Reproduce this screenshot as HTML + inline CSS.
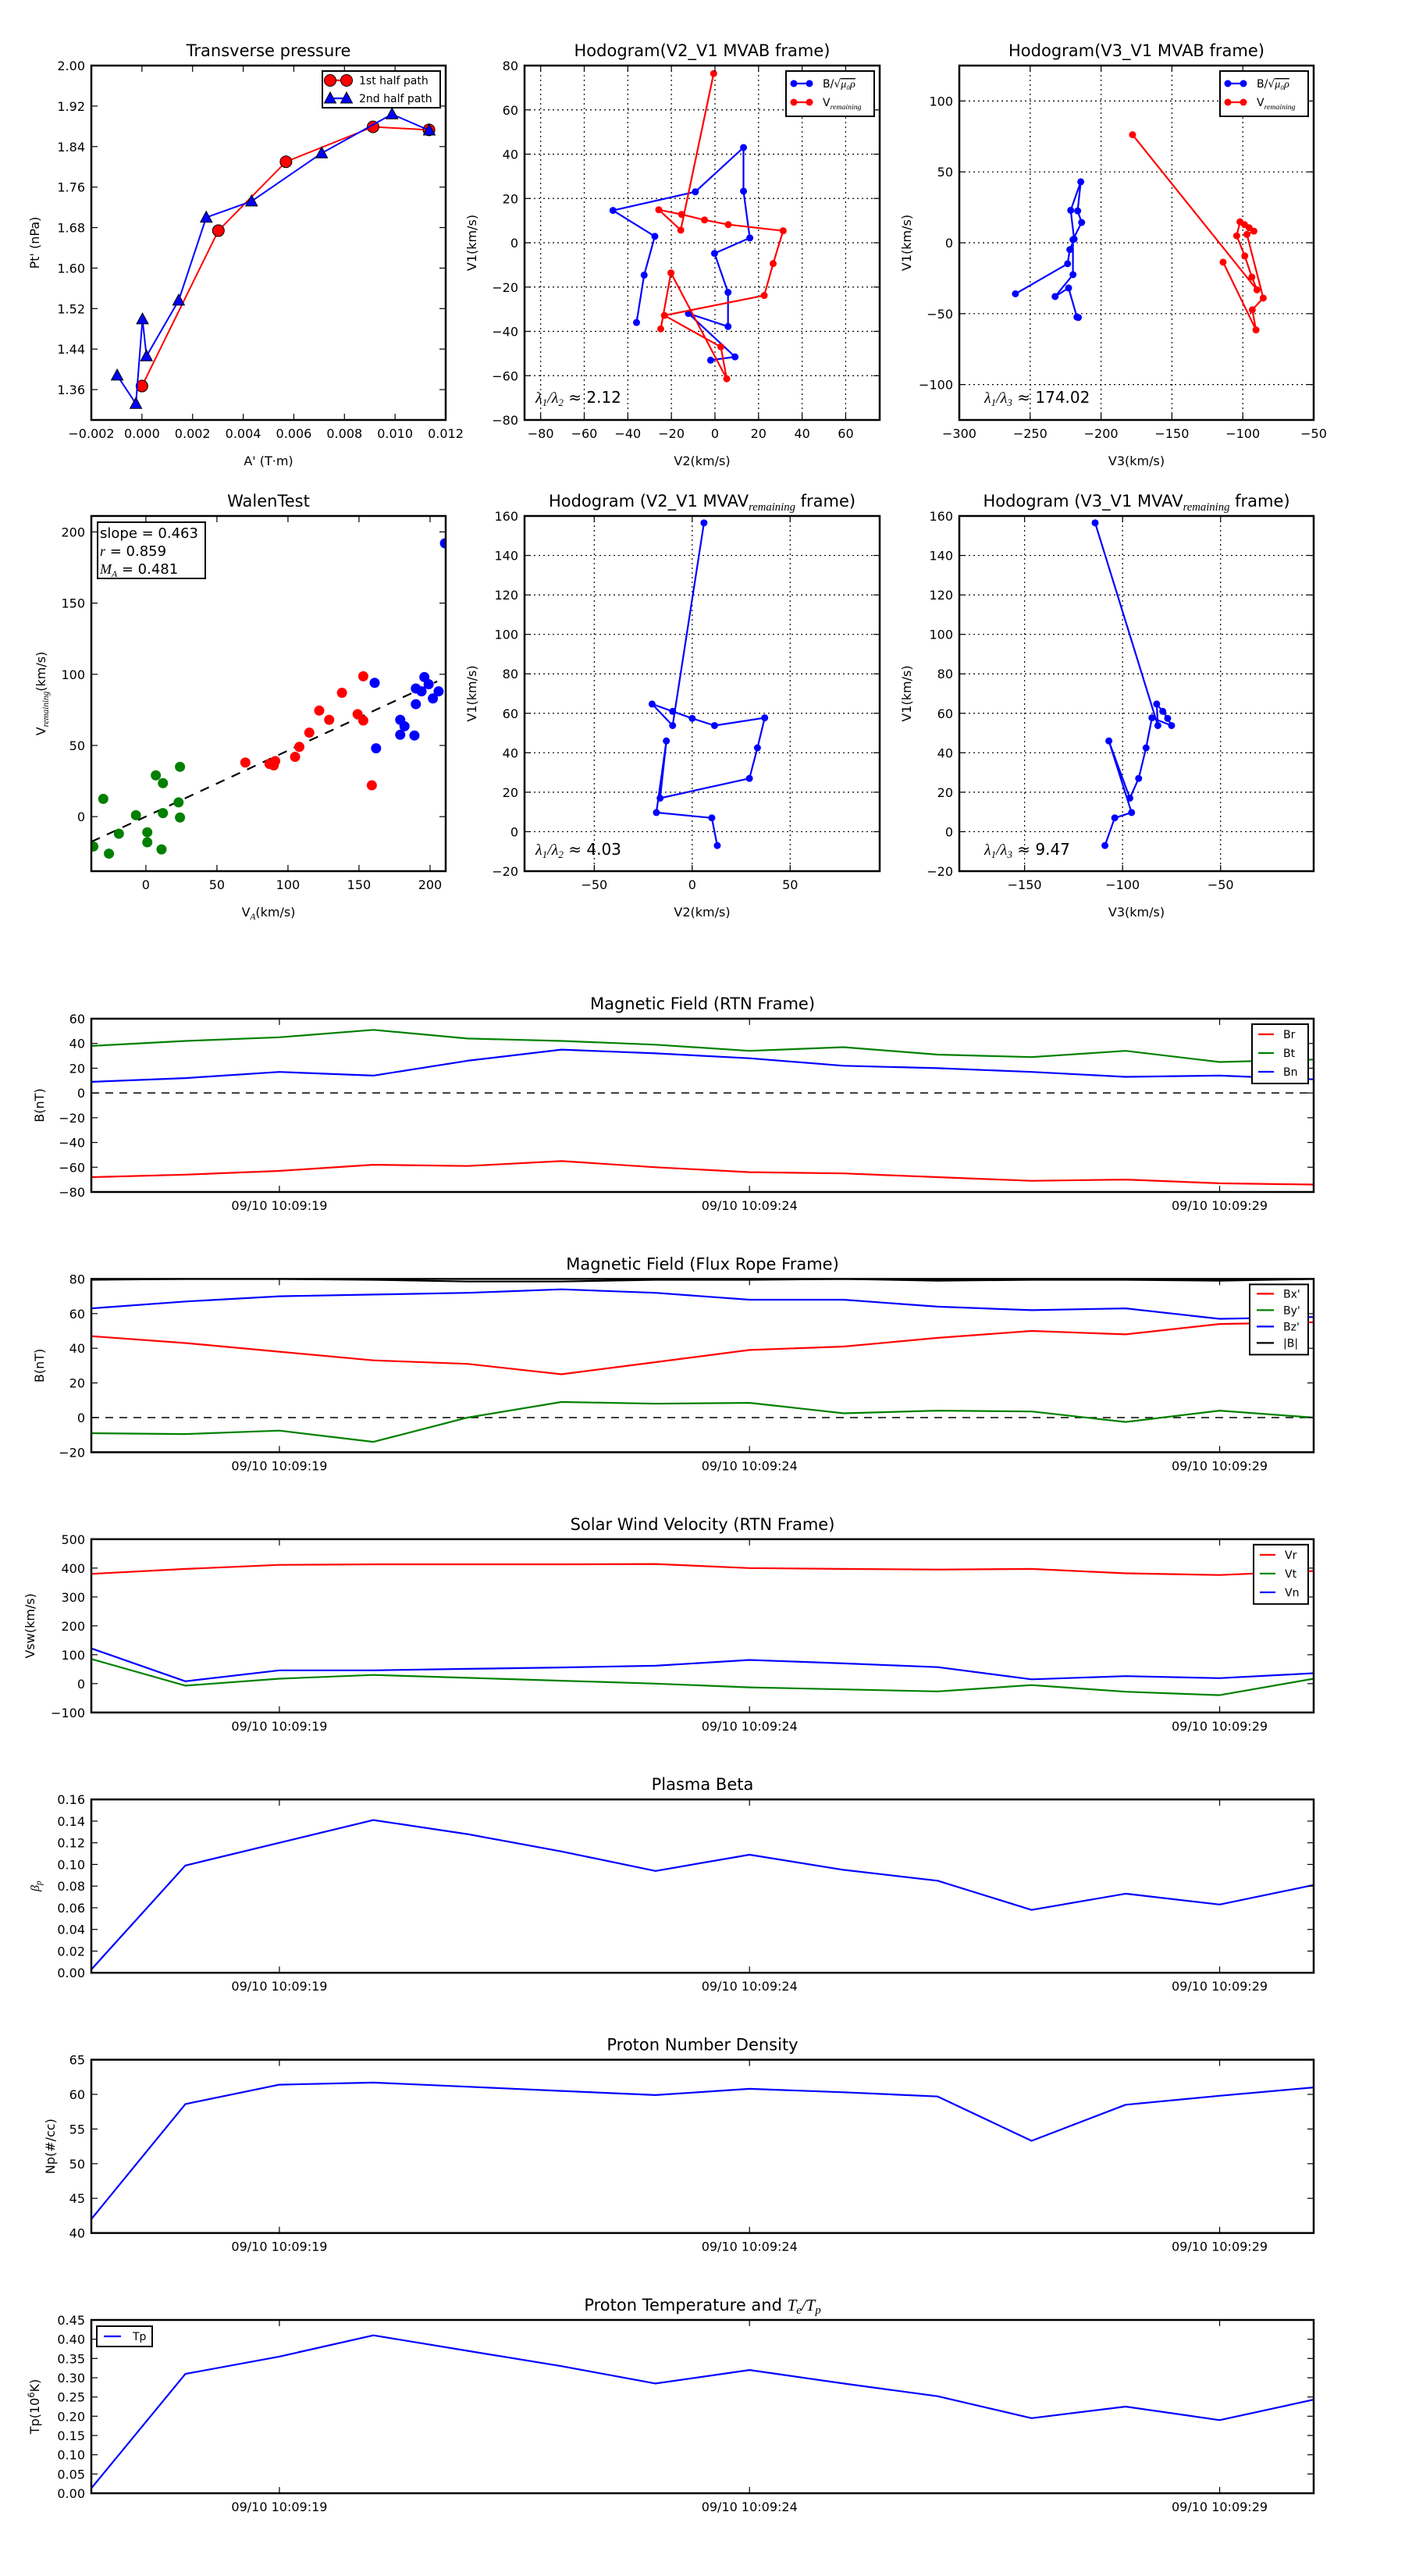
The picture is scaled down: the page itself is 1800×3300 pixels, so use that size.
<!DOCTYPE html>
<html><head><meta charset="utf-8"><title>Flux rope analysis</title>
<style>
html,body{margin:0;padding:0;background:#fff;}
svg{display:block;font-family:"DejaVu Sans","Liberation Sans",sans-serif;}
</style></head>
<body>
<svg id="fig" xmlns="http://www.w3.org/2000/svg" width="1800" height="3300" viewBox="0 0 1800 3300">
<rect width="1800" height="3300" fill="#fff"/>
</svg>
<script>
// ---------- data ----------
const tpRedX = [0.0000, 0.00302, 0.00569, 0.00913, 0.01134];
const tpRedY = [1.367, 1.674, 1.810, 1.879, 1.873];
const tpBlueX = [-0.00098, -0.00024, 0.00002, 0.00018, 0.00145, 0.00254, 0.00433, 0.0071, 0.00988, 0.01135];
const tpBlueY = [1.388, 1.332, 1.499, 1.426, 1.536, 1.700, 1.732, 1.827, 1.904, 1.872];

const h1BlueV2 = [-36, -32.5, -27.6, -46.8, -9, 13.1, 13.1, 16, -0.2, 6, 6, -12.2, 9.2, -2];
const h1BlueV1 = [-36, -14.6, 2.9, 14.6, 23, 43, 23.3, 2.2, -4.8, -22.4, -37.8, -31.9, -51.5, -53];
const h1RedV2 = [-0.6, -15.7, -25.8, -15.3, -4.8, 6.1, 31.3, 26.7, 22.6, -23.2, 2.7, 5.4, -20.2, -24.9];
const h1RedV1 = [76.4, 5.7, 14.9, 12.8, 10.3, 8.2, 5.4, -9.4, -23.8, -32.8, -47, -61.4, -13.6, -38.9];

const h2BlueV3 = [-260.4, -223.6, -222, -219, -221.4, -214.3, -216.5, -213.7, -219.8, -219.8, -232.4, -222.9, -217, -216];
const h2BlueV1 = [-36, -14.8, -4.8, 2.6, 22.9, 43, 22.5, 14.3, 2.2, -22.5, -37.9, -31.9, -52.4, -52.7];
const h2RedV3 = [-177.8, -90, -93.6, -98.6, -104.3, -102, -98.8, -95.5, -92.2, -97.1, -85.6, -93.3, -90.7, -113.9];
const h2RedV1 = [76.2, -33.2, -24.2, -9.3, 4.9, 14.8, 12.8, 10.6, 8.2, 5.9, -39, -47.3, -61.5, -13.7];

const walenGreenX = [-37, -30, -26, -19, -7, 1, 1, 7, 12, 12, 11, 23, 24, 24];
const walenGreenY = [-21, 12.5, -26, -12, 1, -11, -18, 29, 23.5, 2.5, -23, 10, 35, -0.6];
const walenRedX = [70, 87, 90, 91, 105, 108, 115, 122, 129, 138, 149, 153, 153, 159];
const walenRedY = [38, 37, 36, 39, 42, 49, 59, 74.5, 68, 87, 72, 67.5, 98.6, 22];
const walenBlueX = [161, 162, 179, 179, 182, 189, 190, 190, 194, 196, 199, 202, 206, 210.5];
const walenBlueY = [94, 48, 57.5, 68, 63.5, 57, 79, 90, 88, 98, 93, 83, 88, 192];
const walenSlope = 0.463;
const walenIntercept = 0.1;

const h3V2 = [6, -10, -20.5, -10, 0, 11.4, 37, 33.3, 29.2, -16.4, -13.2, -18.3, 10, 12.8];
const h3V1 = [156.5, 53.8, 64.7, 61, 57.4, 53.8, 57.7, 42.5, 27, 17, 46, 9.7, 7, -7];
const h4V3 = [-114, -82, -82.6, -79.5, -77, -75, -85, -88, -91.8, -96.3, -107, -95.4, -104, -109];
const h4V1 = [156.5, 53.8, 64.7, 61, 57.4, 53.8, 57.7, 42.5, 27, 17, 46, 9.7, 7, -7];

const timeLabels = ["09/10 10:09:19", "09/10 10:09:24", "09/10 10:09:29"];
const timeTickIdx = [2, 7, 12];

const Br = [-68, -66, -63, -58, -59, -55, -60, -64, -65, -68, -71, -70, -73, -74];
const Bt = [38, 42, 45, 51, 44, 42, 39, 34, 37, 31, 29, 34, 25, 27];
const Bn = [9, 12, 17, 14, 26, 35, 32, 28, 22, 20, 17, 13, 14, 11];

const Bxp = [47, 43, 38, 33, 31, 25, 32, 39, 41, 46, 50, 48, 54, 55];
const Byp = [-9, -9.5, -7.5, -14, 0, 9, 8, 8.5, 2.5, 4, 3.5, -2.5, 4, 0];
const Bzp = [63, 67, 70, 71, 72, 74, 72, 68, 68, 64, 62, 63, 57, 58];
const Bmag = [79.5, 80, 80, 79.5, 78.5, 78.5, 79.5, 79.5, 80, 79, 79.5, 79.5, 79, 80];

const Vr = [380, 397, 411, 413, 413, 413, 414, 400, 397, 395, 397, 382, 376, 390];
const Vt = [85, -7, 17, 30, 20, 10, 0, -13, -20, -27, -5, -28, -40, 17];
const Vn = [122, 8, 46, 46, 51, 56, 62, 82, 70, 57, 15, 26, 19, 36];

const beta = [0.003, 0.099, 0.120, 0.141, 0.128, 0.112, 0.094, 0.109, 0.095, 0.085, 0.058, 0.073, 0.063, 0.081];
const density = [42, 58.6, 61.4, 61.7, 61.1, 60.5, 59.9, 60.8, 60.3, 59.7, 53.3, 58.5, 59.8, 61];
const temp = [0.013, 0.31, 0.355, 0.41, 0.37, 0.33, 0.285, 0.32, 0.285, 0.252, 0.195, 0.225, 0.19, 0.243];

// ---------- helpers ----------
const NS = 'http://www.w3.org/2000/svg';
const svg = document.getElementById('fig');
function mk(tag, attrs, parent) {
  const e = document.createElementNS(NS, tag);
  for (const k in attrs) e.setAttribute(k, attrs[k]);
  (parent || svg).appendChild(e);
  return e;
}
function rng(a, b, s) { const r = []; for (let v = a; v <= b + s * 1e-6; v += s) r.push(+v.toFixed(6)); return r; }
function fmtMinus(s) { return String(s).replace('-', '\u2212'); }

function axes(name, box, xlim, ylim, xt, yt, xfmt, yfmt, opt) {
  const g = mk('g', {});
  
  
  const sx = v => box.x0 + (v - xlim[0]) / (xlim[1] - xlim[0]) * (box.x1 - box.x0);
  const sy = v => box.y1 - (v - ylim[0]) / (ylim[1] - ylim[0]) * (box.y1 - box.y0);
  if (opt.grid) {
    xt.forEach(v => {
      const l = mk('line', {x1: sx(v), x2: sx(v), y1: box.y0, y2: box.y1, stroke: '#000', 'stroke-width': 1.2, 'stroke-dasharray': '2,4'}, g);
      
      
    });
    yt.forEach(v => {
      const l = mk('line', {x1: box.x0, x2: box.x1, y1: sy(v), y2: sy(v), stroke: '#000', 'stroke-width': 1.2, 'stroke-dasharray': '2,4'}, g);
      
      
    });
  }
  const plot = mk('g', {}, g);
  
  
  const cp = 'clip-' + name;
  const cl = mk('clipPath', {id: cp}, g);
  mk('rect', {x: box.x0, y: box.y0, width: box.x1 - box.x0, height: box.y1 - box.y0}, cl);
  plot.setAttribute('clip-path', 'url(#' + cp + ')');
  const fs = opt.fs || 16;
  xt.forEach((v, i) => {
    const x = sx(v);
    mk('line', {x1: x, x2: x, y1: box.y1, y2: box.y1 - 8, stroke: '#000', 'stroke-width': 1.2}, g);
    mk('line', {x1: x, x2: x, y1: box.y0, y2: box.y0 + 8, stroke: '#000', 'stroke-width': 1.2}, g);
    const t = mk('text', {x: x, y: box.y1 + 23, 'font-size': fs, 'text-anchor': 'middle'}, g);
    t.textContent = xfmt(v, i);
    
    
  });
  yt.forEach(v => {
    const y = sy(v);
    mk('line', {x1: box.x0, x2: box.x0 + 8, y1: y, y2: y, stroke: '#000', 'stroke-width': 1.2}, g);
    mk('line', {x1: box.x1, x2: box.x1 - 8, y1: y, y2: y, stroke: '#000', 'stroke-width': 1.2}, g);
    const t = mk('text', {x: box.x0 - 8, y: y + 6, 'font-size': fs, 'text-anchor': 'end'}, g);
    t.textContent = yfmt(v);
    
    
  });
  const fr = mk('rect', {x: box.x0, y: box.y0, width: box.x1 - box.x0, height: box.y1 - box.y0, fill: 'none', stroke: '#000', 'stroke-width': 2.5}, g);
  
  
  const tt = mk('text', {x: (box.x0 + box.x1) / 2, y: box.y0 - 12, 'font-size': opt.tfs || 21, 'text-anchor': 'middle'}, g);
  tt.innerHTML = opt.title;
  
  
  if (opt.xlabel) {
    const xl = mk('text', {x: (box.x0 + box.x1) / 2, y: box.y1 + 58, 'font-size': 16, 'text-anchor': 'middle'}, g);
    xl.innerHTML = opt.xlabel;
    
    
  }
  if (opt.ylabel) {
    const cx = opt.ylx, cy = (box.y0 + box.y1) / 2;
    const yl = mk('text', {x: cx, y: cy, 'font-size': 16, 'text-anchor': 'middle', transform: 'rotate(-90 ' + cx + ' ' + cy + ')'}, g);
    yl.innerHTML = opt.ylabel;
    
    
  }
  return {g, plot, sx, sy};
}
function series(ax, xs, ys, color, name, marker, lw) {
  const pts = xs.map((x, i) => ax.sx(x).toFixed(1) + ',' + ax.sy(ys[i]).toFixed(1)).join(' ');
  const pl = mk('polyline', {points: pts, fill: 'none', stroke: color, 'stroke-width': lw || 2.2, 'stroke-linejoin': 'round'}, ax.plot);
  
  
  if (marker) xs.forEach((x, i) => drawMarker(ax.plot, ax.sx(x), ax.sy(ys[i]), color, marker, name));
}
function drawMarker(p, x, y, color, marker, name) {
  let m;
  if (marker === 'dot') m = mk('circle', {cx: x, cy: y, r: 4.5, fill: color}, p);
  else if (marker === 'bigdot') m = mk('circle', {cx: x, cy: y, r: 6.5, fill: color}, p);
  else if (marker === 'circle') m = mk('circle', {cx: x, cy: y, r: 7.5, fill: color, stroke: '#000', 'stroke-width': 1}, p);
  else m = mk('polygon', {points: `${x},${y - 8} ${x - 7.5},${y + 6} ${x + 7.5},${y + 6}`, fill: color, stroke: '#000', 'stroke-width': 1}, p);
  
  
}
function legendBox(name, x0, y0, x1, y1) {
  const g = mk('g', {});
  
  
  mk('rect', {x: x0, y: y0, width: x1 - x0, height: y1 - y0, fill: '#fff', stroke: '#000', 'stroke-width': 2}, g);
  return g;
}
function legendEntry(g, x, y, len, color, label, marker, fs, tx) {
  const e = mk('g', {}, g);
  
  
  mk('line', {x1: x, x2: x + len, y1: y, y2: y, stroke: color, 'stroke-width': 2.2}, e);
  if (marker) { drawMarker(e, x, y, color, marker, 'legend'); drawMarker(e, x + len, y, color, marker, 'legend'); }
  const t = mk('text', {x: tx, y: y + fs * 0.36, 'font-size': fs}, e);
  t.innerHTML = label;
}
const f0 = v => fmtMinus(String(v));
const fn = d => v => fmtMinus(v.toFixed(d));
const VREM = 'V<tspan font-style="italic" font-family="Liberation Serif, serif" font-size="0.7em" dy="4">remaining</tspan>';
const VREM_LEG = 'V<tspan font-style="italic" font-family="Liberation Serif, serif" font-size="0.7em" dy="4">remaining</tspan>';
const BLEG = 'B/\u221A<tspan font-style="italic" font-family="Liberation Serif, serif" text-decoration="overline">\u03BC\u2080\u03C1</tspan>';

// ---------- row 1 ----------
const r1 = {y0: 84, y1: 538};
const axTP = axes('transverse-pressure-chart', {x0: 117, x1: 571, ...r1}, [-0.002, 0.012], [1.30, 2.00],
  rng(-0.002, 0.012, 0.002), rng(1.36, 2.0, 0.08), fn(3), fn(2),
  {title: 'Transverse pressure', xlabel: "A' (T\u00B7m)", ylabel: "Pt' (nPa)", ylx: 50});
series(axTP, tpRedX, tpRedY, '#ff0000', 'first-half-path', 'circle', 2);
series(axTP, tpBlueX, tpBlueY, '#0000ff', 'second-half-path', 'tri', 2);
const lgTP = legendBox('pressure-legend', 413, 91, 564, 138);
legendEntry(lgTP, 423, 103, 21, '#ff0000', '1st half path', 'circle', 14, 460);
legendEntry(lgTP, 423, 126, 21, '#0000ff', '2nd half path', 'tri', 14, 460);

const axH1 = axes('hodogram-v2-v1-mvab', {x0: 672, x1: 1127, ...r1}, [-87.4, 75.6], [-80, 80],
  rng(-80, 60, 20), rng(-80, 80, 20), f0, f0,
  {title: 'Hodogram(V2_V1 MVAB frame)', xlabel: 'V2(km/s)', ylabel: 'V1(km/s)', ylx: 610, grid: true});
series(axH1, h1BlueV2, h1BlueV1, '#0000ff', 'b-alfven', 'dot', 2.2);
series(axH1, h1RedV2, h1RedV1, '#ff0000', 'v-remaining', 'dot', 2.2);
const lgH1 = legendBox('hodogram1-legend', 1007, 91, 1120, 149);
legendEntry(lgH1, 1017, 107, 20, '#0000ff', BLEG, 'dot', 14, 1054);
legendEntry(lgH1, 1017, 131, 20, '#ff0000', VREM_LEG, 'dot', 14, 1054);
const l1 = mk('text', {x: 686, y: 516, 'font-size': 20});
l1.innerHTML = '<tspan font-style="italic" font-family="Liberation Serif, serif">\u03BB<tspan font-size="0.65em" dy="4">1</tspan><tspan dy="-4">/\u03BB</tspan><tspan font-size="0.65em" dy="4">2</tspan></tspan><tspan dy="-4"> \u2248 2.12</tspan>';



const axH2 = axes('hodogram-v3-v1-mvab', {x0: 1229, x1: 1683, ...r1}, [-300, -50], [-125, 125],
  rng(-300, -50, 50), rng(-100, 100, 50), f0, f0,
  {title: 'Hodogram(V3_V1 MVAB frame)', xlabel: 'V3(km/s)', ylabel: 'V1(km/s)', ylx: 1167, grid: true});
series(axH2, h2BlueV3, h2BlueV1, '#0000ff', 'b-alfven', 'dot', 2.2);
series(axH2, h2RedV3, h2RedV1, '#ff0000', 'v-remaining', 'dot', 2.2);
const lgH2 = legendBox('hodogram2-legend', 1563, 91, 1676, 149);
legendEntry(lgH2, 1573, 107, 20, '#0000ff', BLEG, 'dot', 14, 1610);
legendEntry(lgH2, 1573, 131, 20, '#ff0000', VREM_LEG, 'dot', 14, 1610);
const l2 = mk('text', {x: 1261, y: 516, 'font-size': 20});
l2.innerHTML = '<tspan font-style="italic" font-family="Liberation Serif, serif">\u03BB<tspan font-size="0.65em" dy="4">1</tspan><tspan dy="-4">/\u03BB</tspan><tspan font-size="0.65em" dy="4">3</tspan></tspan><tspan dy="-4"> \u2248 174.02</tspan>';



// ---------- row 2 ----------
const r2 = {y0: 661, y1: 1116};
const axW = axes('walen-test-chart', {x0: 117, x1: 571, ...r2}, [-38.4, 211], [-38.3, 211.2],
  rng(0, 200, 50), rng(0, 200, 50), f0, f0,
  {title: 'WalenTest', xlabel: 'V<tspan font-style="italic" font-family="Liberation Serif, serif" font-size="0.7em" dy="4">A</tspan><tspan dy="-4">(km/s)</tspan>', ylabel: VREM + '<tspan dy="-4">(km/s)</tspan>', ylx: 58});
{
  const xa = -38.4, xb = 205;
  const fit = mk('line', {x1: axW.sx(xa), y1: axW.sy(walenIntercept + walenSlope * xa), x2: axW.sx(xb), y2: axW.sy(walenIntercept + walenSlope * xb), stroke: '#000', 'stroke-width': 2.2, 'stroke-dasharray': '12,10'}, axW.plot);
  
  
}
walenGreenX.forEach((x, i) => drawMarker(axW.plot, axW.sx(x), axW.sy(walenGreenY[i]), '#008000', 'bigdot', 'walen-green'));
walenRedX.forEach((x, i) => drawMarker(axW.plot, axW.sx(x), axW.sy(walenRedY[i]), '#ff0000', 'bigdot', 'walen-red'));
walenBlueX.forEach((x, i) => drawMarker(axW.plot, axW.sx(x), axW.sy(walenBlueY[i]), '#0000ff', 'bigdot', 'walen-blue'));
{
  const g = legendBox('walen-stats-box', 125, 669, 263, 741);
  const t1 = mk('text', {x: 128, y: 689, 'font-size': 18}, g); t1.textContent = 'slope = 0.463';
  const t2 = mk('text', {x: 128, y: 712, 'font-size': 18}, g); t2.innerHTML = '<tspan font-style="italic" font-family="Liberation Serif, serif">r</tspan> = 0.859';
  const t3 = mk('text', {x: 128, y: 735, 'font-size': 18}, g); t3.innerHTML = '<tspan font-style="italic" font-family="Liberation Serif, serif">M<tspan font-size="0.65em" dy="4">A</tspan></tspan><tspan dy="-4"> = 0.481</tspan>';
}

const axH3 = axes('hodogram-v2-v1-mvav', {x0: 672, x1: 1127, ...r2}, [-85.6, 95.7], [-20, 160],
  [-50, 0, 50], rng(-20, 160, 20), f0, f0,
  {title: 'Hodogram (V2_V1 MVAV<tspan font-style="italic" font-family="Liberation Serif, serif" font-size="0.7em" dy="5">remaining</tspan><tspan dy="-5"> frame)</tspan>', xlabel: 'V2(km/s)', ylabel: 'V1(km/s)', ylx: 610, grid: true});
series(axH3, h3V2, h3V1, '#0000ff', 'mvav-v2-v1', 'dot', 2.2);
const l3 = mk('text', {x: 686, y: 1095, 'font-size': 20});
l3.innerHTML = '<tspan font-style="italic" font-family="Liberation Serif, serif">\u03BB<tspan font-size="0.65em" dy="4">1</tspan><tspan dy="-4">/\u03BB</tspan><tspan font-size="0.65em" dy="4">2</tspan></tspan><tspan dy="-4"> \u2248 4.03</tspan>';



const axH4 = axes('hodogram-v3-v1-mvav', {x0: 1229, x1: 1683, ...r2}, [-183.3, -2.5], [-20, 160],
  [-150, -100, -50], rng(-20, 160, 20), f0, f0,
  {title: 'Hodogram (V3_V1 MVAV<tspan font-style="italic" font-family="Liberation Serif, serif" font-size="0.7em" dy="5">remaining</tspan><tspan dy="-5"> frame)</tspan>', xlabel: 'V3(km/s)', ylabel: 'V1(km/s)', ylx: 1167, grid: true});
series(axH4, h4V3, h4V1, '#0000ff', 'mvav-v3-v1', 'dot', 2.2);
const l4 = mk('text', {x: 1261, y: 1095, 'font-size': 20});
l4.innerHTML = '<tspan font-style="italic" font-family="Liberation Serif, serif">\u03BB<tspan font-size="0.65em" dy="4">1</tspan><tspan dy="-4">/\u03BB</tspan><tspan font-size="0.65em" dy="4">3</tspan></tspan><tspan dy="-4"> \u2248 9.47</tspan>';



// ---------- time series ----------
const idx = Br.map((_, i) => i);
const tsX = {x0: 117, x1: 1683};
const tlab = (v, i) => timeLabels[i];
function tsBox(i) { const y0 = 1305 + 333.4 * i; return {...tsX, y0: y0, y1: y0 + 222}; }
function zeroLine(ax) {
  const z = mk('line', {x1: tsX.x0, x2: tsX.x1, y1: ax.sy(0), y2: ax.sy(0), stroke: '#000', 'stroke-width': 1.5, 'stroke-dasharray': '10,8'}, ax.plot);
  
  
}

const axB = axes('magnetic-field-rtn-chart', tsBox(0), [0, 13], [-80, 60], timeTickIdx, rng(-80, 60, 20), tlab, f0,
  {title: 'Magnetic Field (RTN Frame)', ylabel: 'B(nT)', ylx: 56});
zeroLine(axB);
series(axB, idx, Br, '#ff0000', 'br');
series(axB, idx, Bt, '#008000', 'bt');
series(axB, idx, Bn, '#0000ff', 'bn');
{
  const b = tsBox(0);
  const g = legendBox('rtn-legend', 1604, b.y0 + 7, 1676, b.y0 + 83);
  legendEntry(g, 1612, b.y0 + 20, 20, '#ff0000', 'Br', null, 14, 1644);
  legendEntry(g, 1612, b.y0 + 44, 20, '#008000', 'Bt', null, 14, 1644);
  legendEntry(g, 1612, b.y0 + 68, 20, '#0000ff', 'Bn', null, 14, 1644);
}

const axF = axes('magnetic-field-flux-rope-chart', tsBox(1), [0, 13], [-20, 80], timeTickIdx, rng(-20, 80, 20), tlab, f0,
  {title: 'Magnetic Field (Flux Rope Frame)', ylabel: 'B(nT)', ylx: 56});
zeroLine(axF);
series(axF, idx, Bxp, '#ff0000', 'bx-prime');
series(axF, idx, Byp, '#008000', 'by-prime');
series(axF, idx, Bzp, '#0000ff', 'bz-prime');
series(axF, idx, Bmag, '#000000', 'b-magnitude');
{
  const b = tsBox(1);
  const g = legendBox('flux-rope-legend', 1601, b.y0 + 7, 1676, b.y0 + 97);
  legendEntry(g, 1610, b.y0 + 19, 22, '#ff0000', "Bx'", null, 14, 1644);
  legendEntry(g, 1610, b.y0 + 40, 22, '#008000', "By'", null, 14, 1644);
  legendEntry(g, 1610, b.y0 + 61, 22, '#0000ff', "Bz'", null, 14, 1644);
  legendEntry(g, 1610, b.y0 + 82, 22, '#000000', '|B|', null, 14, 1644);
}

const axV = axes('solar-wind-velocity-chart', tsBox(2), [0, 13], [-100, 500], timeTickIdx, rng(-100, 500, 100), tlab, f0,
  {title: 'Solar Wind Velocity (RTN Frame)', ylabel: 'Vsw(km/s)', ylx: 44});
series(axV, idx, Vr, '#ff0000', 'vr');
series(axV, idx, Vt, '#008000', 'vt');
series(axV, idx, Vn, '#0000ff', 'vn');
{
  const b = tsBox(2);
  const g = legendBox('velocity-legend', 1606, b.y0 + 7, 1676, b.y0 + 83);
  legendEntry(g, 1614, b.y0 + 20, 20, '#ff0000', 'Vr', null, 14, 1646);
  legendEntry(g, 1614, b.y0 + 44, 20, '#008000', 'Vt', null, 14, 1646);
  legendEntry(g, 1614, b.y0 + 68, 20, '#0000ff', 'Vn', null, 14, 1646);
}

const axBeta = axes('plasma-beta-chart', tsBox(3), [0, 13], [0, 0.16], timeTickIdx, rng(0, 0.16, 0.02), tlab, fn(2),
  {title: 'Plasma Beta', ylabel: '<tspan font-style="italic" font-family="Liberation Serif, serif">\u03B2<tspan font-size="0.7em" dy="3">p</tspan></tspan>', ylx: 50});
series(axBeta, idx, beta, '#0000ff', 'beta');

const axN = axes('proton-density-chart', tsBox(4), [0, 13], [40, 65], timeTickIdx, rng(40, 65, 5), tlab, f0,
  {title: 'Proton Number Density', ylabel: 'Np(#/cc)', ylx: 70});
series(axN, idx, density, '#0000ff', 'density');

const axT = axes('proton-temperature-chart', tsBox(5), [0, 13], [0, 0.45], timeTickIdx, rng(0, 0.45, 0.05), tlab, fn(2),
  {title: 'Proton Temperature and <tspan font-style="italic" font-family="Liberation Serif, serif">T<tspan font-size="0.7em" dy="4">e</tspan><tspan dy="-4">/T</tspan><tspan font-size="0.7em" dy="4">p</tspan></tspan>', ylabel: 'Tp(10<tspan font-size="0.7em" dy="-6">6</tspan><tspan dy="6">K)</tspan>', ylx: 50});
series(axT, idx, temp, '#0000ff', 'tp');
{
  const b = tsBox(5);
  const g = legendBox('temperature-legend', 124, b.y0 + 8, 195, b.y0 + 34);
  legendEntry(g, 133, b.y0 + 21, 22, '#0000ff', 'Tp', null, 14, 170);
}
</script>
</body></html>
